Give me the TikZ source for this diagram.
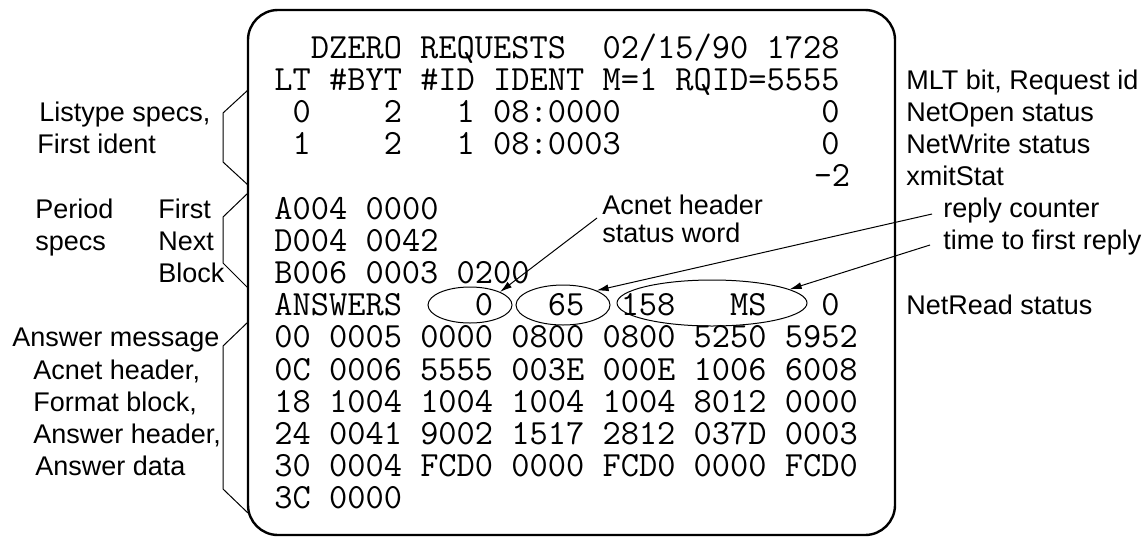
\documentclass[tikz,border=0pt]{standalone}
\usepackage{fontspec}
\setmainfont{Liberation Sans}
\usetikzlibrary{arrows.meta,shapes.geometric}
\tikzset{
  scr/.style={anchor=base west,inner sep=0pt,font=\fontsize{17.7pt}{18pt}\ttfamily},
  lbl/.style={anchor=base west,inner sep=0pt,font=\fontsize{13.5pt}{14pt}\selectfont},
  brk/.style={line width=0.5pt},
  ring/.style={ellipse,draw,line width=0.5pt,inner sep=0pt},
  arr/.style={-{Latex[length=6pt,width=3.5pt]},line width=0.5pt}
}
\begin{document}
\begin{tikzpicture}[x=0.5pt,y=-0.5pt]
  \useasboundingbox (0,0) rectangle (1144,536);
  % the screen dump
  \draw[line width=1.2pt,rounded corners=15pt] (248,10) rectangle (895,535);
  \node[scr] (hdr)  at (274,58)    {~~DZERO REQUESTS~~02/15/90 1728};
  \node[scr] (cols) at (274,90.2)  {LT \#BYT \#ID IDENT M=1 RQID=5555};
  \node[scr] (lt0)  at (274,122.4) {~0~~~~2~~~1~08:0000~~~~~~~~~~~0};
  \node[scr] (lt1)  at (274,154.6) {~1~~~~2~~~1~08:0003~~~~~~~~~~~0};
  \node[scr,anchor=base east] (xmit) at (850.6,186.8) {-2};
  \node[scr] (per1) at (274,219)   {A004 0000};
  \node[scr] (per2) at (274,251.2) {D004 0042};
  \node[scr] (per3) at (274,283.4) {B006 0003 0200};
  \node[scr] (ans)  at (274,315.6) {ANSWERS~~~~0~~~65~~158~~~MS~~~0};
  \node[scr] (d00)  at (274,347.8) {00 0005 0000 0800 0800 5250 5952};
  \node[scr] (d0C)  at (274,380)   {0C 0006 5555 003E 000E 1006 6008};
  \node[scr] (d18)  at (274,412.2) {18 1004 1004 1004 1004 8012 0000};
  \node[scr] (d24)  at (274,444.4) {24 0041 9002 1517 2812 037D 0003};
  \node[scr] (d30)  at (274,476.6) {30 0004 FCD0 0000 FCD0 0000 FCD0};
  \node[scr] (d3C)  at (274,508.8) {3C 0000};
  % rings round the answer counts
  \node[ring,minimum width=42pt,minimum height=18pt] (e0)   at (470,305) {};
  \node[ring,minimum width=47pt,minimum height=20pt] (e65)  at (563,305) {};
  \node[ring,minimum width=95pt,minimum height=23pt] (e158) at (712,303) {};
  % left side: brackets and their labels
  \draw[brk] (248,90) -- (223,113) -- (223,162) -- (248,185);
  \draw[brk] (248,193) -- (223,217) -- (223,263) -- (248,288);
  \draw[brk] (248,322) -- (223,346) -- (223,489) -- (248,513);
  \node[lbl] (listype) at (39,121.4)  {Listype specs,};
  \node[lbl] (ident)   at (37,153.6)  {First ident};
  \node[lbl] (period)  at (35,218)    {Period};
  \node[lbl] (pspecs)  at (35,250.2)  {specs};
  \node[lbl] (pfirst)  at (158,218)   {First};
  \node[lbl] (pnext)   at (158,250.2) {Next};
  \node[lbl] (pblock)  at (158,282.4) {Block};
  \node[lbl] (amsg)    at (12,346.8)  {Answer message};
  \node[lbl] (ahdr)    at (33,379)    {Acnet header,};
  \node[lbl] (afmt)    at (33,411.2)  {Format block,};
  \node[lbl] (aans)    at (33,443.4)  {Answer header,};
  \node[lbl] (adata)   at (35,475.6)  {Answer data};
  % right side labels
  \node[lbl] (mlt)     at (906,89.2)  {MLT bit, Request id};
  \node[lbl] (nopen)   at (906,121.4) {NetOpen status};
  \node[lbl] (nwrite)  at (906,153.6) {NetWrite status};
  \node[lbl] (xstat)   at (906,185.8) {xmitStat};
  \node[lbl] (reply)   at (943,217)   {reply counter};
  \node[lbl] (tfirst)  at (943,249)   {time to first reply};
  \node[lbl] (nread)   at (906,314.6) {NetRead status};
  \node[lbl] (acnet)   at (602,214)   {Acnet header};
  \node[lbl] (sword)   at (602,242)   {status word};
  % pointers
  \draw[arr] ([shift={(-5,4)}]acnet.base west) -- (e0.north east);
  \draw[arr] ([shift={(-11,-3)}]reply.base west) -- (e65.north east);
  \draw[arr] ([shift={(-13,-4)}]tfirst.base west) -- (e158.10);
\end{tikzpicture}
\end{document}
